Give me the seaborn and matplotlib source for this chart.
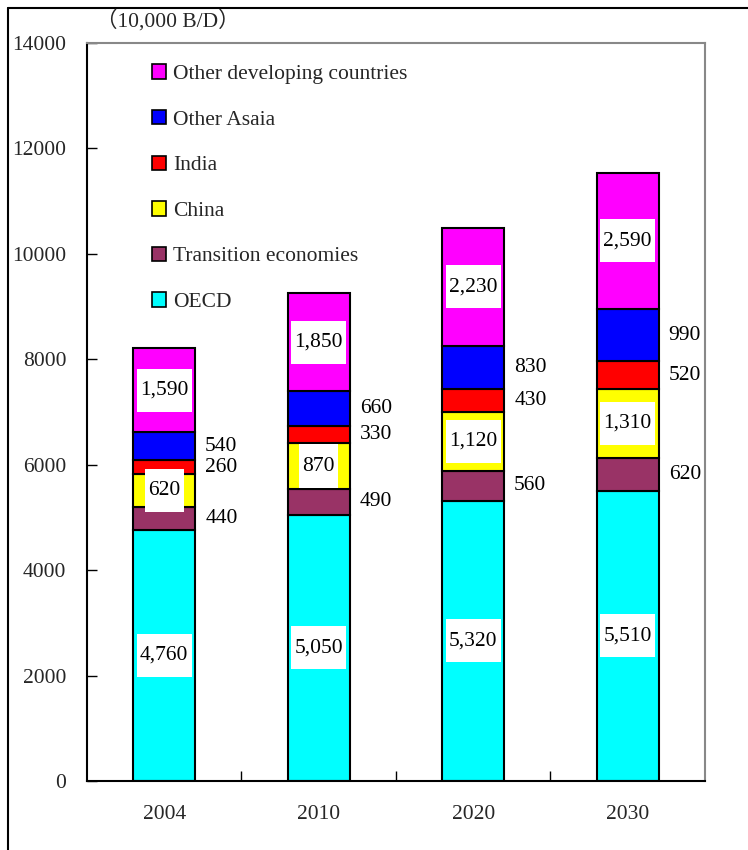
import matplotlib
matplotlib.use("Agg")
import matplotlib.pyplot as plt
import seaborn as sns
import pandas as pd
import numpy as np
from matplotlib.lines import Line2D
from matplotlib.patches import Patch
from matplotlib.path import Path

years = ["2004", "2010", "2020", "2030"]
series = ["OECD", "Transition economies", "China", "India", "Other Asaia", "Other developing countries"]
oecd = [4760, 5050, 5320, 5510]
transition = [440, 490, 560, 620]
china = [620, 870, 1120, 1310]
india = [260, 330, 430, 520]
other_asia = [540, 660, 830, 990]
other_dev = [1590, 1850, 2230, 2590]
values = [oecd, transition, china, india, other_asia, other_dev]
colors = ["#00FFFF", "#993366", "#FFFF00", "#FF0000", "#0000FF", "#FF00FF"]
inside = [True, False, True, False, False, True]
yticks = [0, 2000, 4000, 6000, 8000, 10000, 12000, 14000]

sns.set_theme(style="white")
plt.rcParams["font.family"] = ["Liberation Serif", "Noto Sans CJK JP", "DejaVu Sans"]
FS = 15.5


def label_box(x0, y0, width, height, mutation_size):
    padx = 0.16 * mutation_size
    pady = 0.56 * mutation_size
    xa, ya = x0 - padx, y0 - pady
    xb, yb = x0 + width + padx, y0 + height + pady
    return Path([(xa, ya), (xb, ya), (xb, yb), (xa, yb), (xa, ya)], closed=True)


fig = plt.figure(figsize=(7.48, 8.5), dpi=100)
ax = fig.add_axes([0.1163, 0.0812, 0.8262, 0.8682])

# bars
bottom = np.zeros(len(years))
bottoms = []
for name, vals, col in zip(series, values, colors):
    vals = np.array(vals, dtype=float)
    bottoms.append(bottom.copy())
    sub = pd.DataFrame({"year": years, "value": vals})
    sns.barplot(data=sub, x="year", y="value", bottom=bottom, color=col,
                saturation=1, width=0.4, edgecolor="black", linewidth=1.5,
                ax=ax, errorbar=None, zorder=2)
    bottom = bottom + vals

# labels on top of all bars
for vals, bot, ins in zip(values, bottoms, inside):
    for i, v in enumerate(vals):
        yc = bot[i] + v / 2
        lab = f"{int(v):,}"
        if ins:
            ax.text(i, yc, lab, ha="center", va="center", fontsize=FS, color="black",
                    bbox=dict(boxstyle=label_box, fc="white", ec="none"), zorder=10)
        else:
            ax.text(i + 0.265, yc, lab, ha="left", va="center", fontsize=FS,
                    color="black", zorder=10)

ax.set_xlim(-0.5, 3.5)
ax.set_ylim(0, 14000)
ax.set_yticks(yticks)
ax.set_yticklabels([str(t) for t in yticks], fontsize=FS)
ax.set_xticks(range(len(years)))
ax.set_xticklabels(years, fontsize=FS)
ax.set_xticks([0.5, 1.5, 2.5], minor=True)
ax.tick_params(axis="x", which="major", length=0, pad=17)
ax.tick_params(axis="x", which="minor", direction="in", length=7, width=1, color="black", bottom=True)
ax.tick_params(axis="y", direction="in", length=7, width=1, color="black", left=True, pad=15)
ax.set_xlabel("")
ax.set_ylabel("")
for s in ["left", "bottom"]:
    ax.spines[s].set_color("black")
    ax.spines[s].set_linewidth(1.5)
for s in ["top", "right"]:
    ax.spines[s].set_color("#888888")
    ax.spines[s].set_linewidth(1.5)
ax.grid(False)

handles = [Patch(facecolor=c, edgecolor="black", linewidth=1.2) for c in colors][::-1]
ax.legend(handles, series[::-1], loc="upper left", bbox_to_anchor=(0.105, 0.971),
          frameon=False, fontsize=FS, handlelength=0.65, handleheight=0.65,
          handletextpad=0.35, labelspacing=1.2, borderpad=0, borderaxespad=0)

fig.text(96 / 748, 1 - 21 / 850, "（10,000 B/D）", fontsize=FS, ha="left", va="center")

fig.add_artist(Line2D([8 / 748, 8 / 748], [0, 1 - 8 / 850], transform=fig.transFigure,
                      color="black", linewidth=1.5))
fig.add_artist(Line2D([8 / 748, 1], [1 - 8 / 850, 1 - 8 / 850], transform=fig.transFigure,
                      color="black", linewidth=1.5))

fig.savefig("out.png", dpi=100)
